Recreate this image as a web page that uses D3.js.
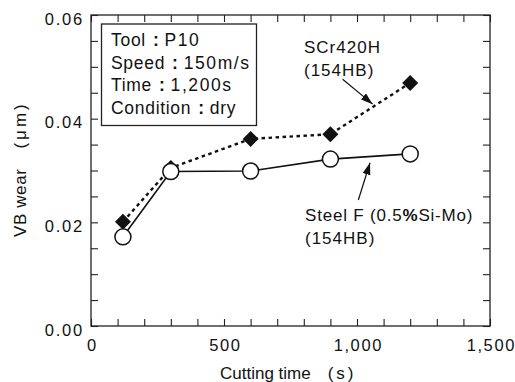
<!DOCTYPE html>
<html>
<head>
<meta charset="utf-8">
<script src="https://cdn.jsdelivr.net/npm/d3@7"></script>
<style>
  body { margin: 0; background: #fff; }
  text { font-family: "Liberation Sans", Arial, sans-serif; fill: #111; }
</style>
</head>
<body>
<div id="chart"></div>
<script>
// Data
var times = [120, 300, 600, 900, 1200];
var steelF = [0.0172, 0.0298, 0.0299, 0.0322, 0.0332];
var scr420h = [0.0201, 0.0305, 0.0361, 0.0370, 0.0469];

var xLabelTicks = [0, 500, 1000, 1500];
var yLabelTicks = [0, 0.02, 0.04, 0.06];

var boxKeys = ["Tool", "Speed", "Time", "Condition"];
var boxValues = ["P10", "150m/s", "1,200s", "dry"];

var width = 515, height = 382;

var svg = d3.select("#chart").append("svg")
    .attr("width", width)
    .attr("height", height);

var x = d3.scaleLinear().domain([0, 1500]).range([91, 490]);
var y = d3.scaleLinear().domain([0, 0.06]).range([326, 15]);

// Axes (ticks point inward on all four sides)
var xTicks = d3.range(0, 1501, 100);
var yTicks = d3.range(0, 0.0601, 0.005).map(function(d) { return +d.toFixed(3); });

function fmtX(d) { return xLabelTicks.indexOf(d) >= 0 ? d3.format(",")(d) : ""; }
function fmtY(d) { return yLabelTicks.some(function(v) { return Math.abs(v - d) < 1e-9; }) ? d3.format(".2f")(d) : ""; }

var gx = svg.append("g").attr("transform", "translate(0," + y(0) + ")")
    .call(d3.axisBottom(x).tickValues(xTicks).tickSize(-7).tickPadding(13).tickFormat(fmtX));
var gy = svg.append("g").attr("transform", "translate(" + x(0) + ",0)")
    .call(d3.axisLeft(y).tickValues(yTicks).tickSize(-7).tickPadding(7).tickFormat(fmtY));
var gt = svg.append("g").attr("transform", "translate(0," + y(0.06) + ")")
    .call(d3.axisTop(x).tickValues(xTicks).tickSize(-7).tickFormat(""));
var gr = svg.append("g").attr("transform", "translate(" + x(1500) + ",0)")
    .call(d3.axisRight(y).tickValues(yTicks).tickSize(-7).tickFormat(""));

[gx, gy, gt, gr].forEach(function(g) {
    g.select(".domain").remove();
    g.selectAll(".tick line").attr("stroke", "#222").attr("stroke-width", 1.1);
});
gx.selectAll(".tick text").attr("font-size", 16.5).attr("letter-spacing", 1.6).attr("dx", 0.8).attr("fill", "#111");
gy.selectAll(".tick text").attr("font-size", 16.5).attr("letter-spacing", 1.8).attr("dy", "0.55em").attr("fill", "#111");

// Frame
svg.append("rect")
    .attr("x", x(0)).attr("y", y(0.06))
    .attr("width", x(1500) - x(0)).attr("height", y(0) - y(0.06))
    .attr("fill", "none").attr("stroke", "#222").attr("stroke-width", 1.3);

// Axis titles
var xt = svg.append("text")
    .attr("x", 220).attr("y", 379)
    .attr("font-size", 17);
xt.append("tspan").text("Cutting time");
xt.append("tspan").attr("dx", 17).attr("letter-spacing", 3).text("(s)");

var yt = svg.append("text")
    .attr("transform", "translate(26,237) rotate(-90)")
    .attr("font-size", 17);
yt.append("tspan").attr("letter-spacing", 0.6).text("VB wear");
yt.append("tspan").attr("dx", 20).attr("letter-spacing", 3).text("(μm)");

// Series
var pts = function(vals) { return times.map(function(t, i) { return [t, vals[i]]; }); };
var line = d3.line().x(function(d) { return x(d[0]); }).y(function(d) { return y(d[1]); });

svg.append("path")
    .datum(pts(scr420h))
    .attr("d", line)
    .attr("fill", "none").attr("stroke", "#111")
    .attr("stroke-width", 2.4).attr("stroke-dasharray", "3.5,3.5");

svg.selectAll(".diamond")
    .data(pts(scr420h))
    .join("path")
    .attr("class", "diamond")
    .attr("d", d3.symbol().type(d3.symbolSquare).size(128))
    .attr("transform", function(d) { return "translate(" + x(d[0]) + "," + y(d[1]) + ") rotate(45)"; })
    .attr("fill", "#111");

svg.append("path")
    .datum(pts(steelF))
    .attr("d", line)
    .attr("fill", "none").attr("stroke", "#111").attr("stroke-width", 1.6);

svg.selectAll(".circle")
    .data(pts(steelF))
    .join("circle")
    .attr("class", "circle")
    .attr("cx", function(d) { return x(d[0]); })
    .attr("cy", function(d) { return y(d[1]); })
    .attr("r", 8)
    .attr("fill", "#fff").attr("stroke", "#111").attr("stroke-width", 1.5);

// Condition box
svg.append("rect")
    .attr("x", 101.5).attr("y", 24)
    .attr("width", 155).attr("height", 101.5)
    .attr("fill", "#fff").attr("stroke", "#222").attr("stroke-width", 1.3);

boxKeys.forEach(function(k, i) {
    var t = svg.append("text")
        .attr("x", 111).attr("y", 46 + i * 22.6)
        .attr("font-size", 17.5)
        .attr("letter-spacing", 0.7);
    t.append("tspan").text(k);
    t.append("tspan").attr("dx", 7).attr("font-weight", "bold").text(":");
    t.append("tspan").attr("dx", 5)
        .attr("letter-spacing", /\d/.test(boxValues[i]) ? 1.6 : 0.7)
        .text(boxValues[i]);
});

// Annotations with arrows
svg.append("defs").append("marker")
    .attr("id", "arrow")
    .attr("viewBox", "0 0 12 8")
    .attr("refX", 12).attr("refY", 4)
    .attr("markerWidth", 12).attr("markerHeight", 8)
    .attr("markerUnits", "userSpaceOnUse")
    .attr("orient", "auto")
    .append("path")
    .attr("d", "M0,0 L12,4 L0,8 Z")
    .attr("fill", "#111");

var arrows = [
    {from: [946, 0.0476], to: [1059, 0.0428]},
    {from: [1005, 0.0243], to: [1049, 0.0315]}
];
svg.selectAll(".arrow")
    .data(arrows)
    .join("line")
    .attr("class", "arrow")
    .attr("x1", function(d) { return x(d.from[0]); })
    .attr("y1", function(d) { return y(d.from[1]); })
    .attr("x2", function(d) { return x(d.to[0]); })
    .attr("y2", function(d) { return y(d.to[1]); })
    .attr("stroke", "#111").attr("stroke-width", 1.2)
    .attr("marker-end", "url(#arrow)");

svg.append("text").attr("x", 304).attr("y", 52.5).attr("font-size", 17)
    .attr("letter-spacing", 1).text("SCr420H");
svg.append("text").attr("x", 304).attr("y", 76).attr("font-size", 17)
    .attr("letter-spacing", 1).text("(154HB)");

var sf = svg.append("text").attr("x", 305).attr("y", 220.5).attr("font-size", 17)
    .attr("letter-spacing", 0.8);
sf.append("tspan").text("Steel F (0.5");
sf.append("tspan").attr("font-weight", "bold").text("%");
sf.append("tspan").text("Si-Mo)");
svg.append("text").attr("x", 305).attr("y", 243.5).attr("font-size", 17)
    .attr("letter-spacing", 1).text("(154HB)");
</script>
</body>
</html>
